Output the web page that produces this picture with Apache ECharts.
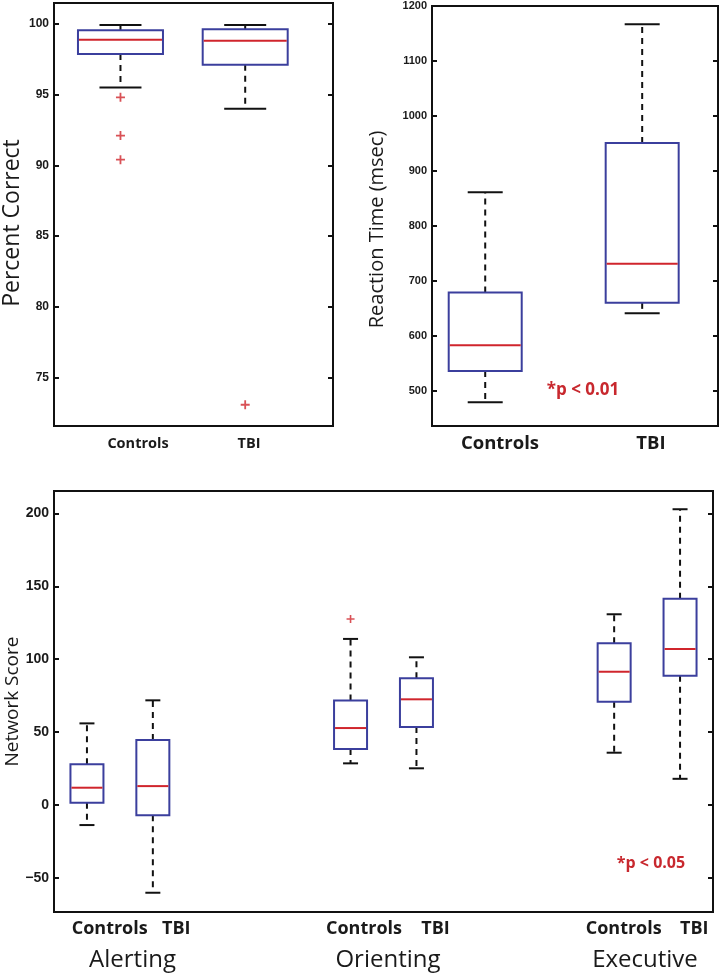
<!DOCTYPE html>
<html>
<head>
<meta charset="utf-8">
<script src="https://cdn.jsdelivr.net/npm/echarts@6/dist/echarts.min.js"></script>
<style>
html,body{margin:0;padding:0;background:#fff;}
#c{width:721px;height:976px;}
</style>
</head>
<body>
<div id="c"></div>
<script>
// ---------- DATA ----------
const groupsTop = ['Controls', 'TBI'];
// stats: [low whisker, Q1, median, Q3, high whisker]
const pcStats = [
  [95.5, 97.86, 98.87, 99.53, 99.9],
  [94.0, 97.1, 98.8, 99.6, 99.9]
];
const pcOutliers = [[1, 94.8], [1, 92.1], [1, 90.4], [2, 73.1]];
const pcTicks = [75, 80, 85, 90, 95, 100];

const rtStats = [
  [479, 536, 583, 679, 861],
  [641, 660, 731, 951, 1167]
];
const rtTicks = [500, 600, 700, 800, 900, 1000, 1100, 1200];

const nsNetworks = ['Alerting', 'Orienting', 'Executive'];
const nsSubgroups = ['Controls', 'TBI'];
const nsStats = [
  [-13.7, 1.6, 11.9, 27.9, 56],     // Alerting Controls
  [-60.1, -6.9, 13, 44.6, 71.8],    // Alerting TBI
  [28.6, 38.4, 52.8, 71.6, 113.9],  // Orienting Controls
  [25.2, 53.5, 72.5, 86.9, 101.3],  // Orienting TBI
  [35.9, 70.9, 91.4, 110.9, 130.8], // Executive Controls
  [18, 88.7, 107, 141.5, 202.8]     // Executive TBI
];
const nsPositions = [1, 1.25, 2, 2.25, 3, 3.25];
const nsOutliers = [[2, 127.6]];
const nsTicks = [-50, 0, 50, 100, 150, 200];

// ---------- STYLE ----------
const BLUE = '#3b3f9d';
const RED = '#d0252c';
const TXTRED = '#c8282e';
const PLUS = 'path://M4,0H6V4H10V6H6V10H4V6H0V4H4Z';

function boxRenderer(boxPx, capPx) {
  return function (params, api) {
    const x = api.value(0);
    const lo = api.coord([x, api.value(1)]);
    const q1 = api.coord([x, api.value(2)]);
    const md = api.coord([x, api.value(3)]);
    const q3 = api.coord([x, api.value(4)]);
    const hi = api.coord([x, api.value(5)]);
    const cx = lo[0], h = boxPx / 2, c = capPx / 2;
    const dash = { stroke: '#111', lineWidth: 2, lineDash: [6, 5] };
    const solid = { stroke: '#111', lineWidth: 2 };
    return {
      type: 'group',
      children: [
        { type: 'line', shape: { x1: cx, y1: q3[1], x2: cx, y2: hi[1] }, style: dash },
        { type: 'line', shape: { x1: cx, y1: q1[1], x2: cx, y2: lo[1] }, style: dash },
        { type: 'line', shape: { x1: cx - c, y1: hi[1], x2: cx + c, y2: hi[1] }, style: solid },
        { type: 'line', shape: { x1: cx - c, y1: lo[1], x2: cx + c, y2: lo[1] }, style: solid },
        { type: 'rect', shape: { x: cx - h, y: q3[1], width: boxPx, height: q1[1] - q3[1] },
          style: { fill: 'rgba(0,0,0,0)', stroke: BLUE, lineWidth: 2 } },
        { type: 'line', shape: { x1: cx - h + 1, y1: md[1], x2: cx + h - 1, y2: md[1] },
          style: { stroke: RED, lineWidth: 2 } }
      ]
    };
  };
}

function yAxes(gridIndex, min, max, ticks, fontSize, showLabelsLeft) {
  const fmt = v => String(v).replace('-', '\u2212');
  const common = {
    type: 'value', gridIndex, min, max,
    splitLine: { show: false },
    axisLine: { show: false }
  };
  return [
    Object.assign({}, common, {
      position: 'left',
      axisTick: { show: true, inside: true, length: 5, lineStyle: { color: '#111', width: 2 }, customValues: ticks },
      axisLabel: { show: showLabelsLeft, customValues: ticks, formatter: fmt, margin: 5,
        fontFamily: 'Liberation Sans', fontWeight: 'bold', fontSize, color: '#1a1a1a' }
    }),
    Object.assign({}, common, {
      position: 'right',
      axisTick: { show: true, inside: true, length: 5, lineStyle: { color: '#111', width: 2 }, customValues: ticks },
      axisLabel: { show: false }
    })
  ];
}

const gridStyle = { show: true, borderColor: '#111', borderWidth: 2, backgroundColor: '#fff' };

const option = {
  animation: false,
  backgroundColor: '#fff',
  grid: [
    Object.assign({ left: 54, top: 3, width: 279, height: 423 }, gridStyle),
    Object.assign({ left: 432, top: 6, width: 286, height: 420 }, gridStyle),
    Object.assign({ left: 54, top: 491, width: 659, height: 421 }, gridStyle)
  ],
  xAxis: [
    { type: 'value', gridIndex: 0, min: 0.467, max: 2.704, show: false },
    { type: 'value', gridIndex: 1, min: 0.661, max: 2.483, show: false },
    { type: 'value', gridIndex: 2, min: 0.875, max: 3.375, show: false }
  ],
  yAxis: [].concat(
    yAxes(0, 71.6, 101.46, pcTicks, 12, true),
    yAxes(1, 436, 1200, rtTicks, 11, true),
    yAxes(2, -73.3, 215.3, nsTicks, 14, true)
  ),
  series: [
    {
      type: 'custom', xAxisIndex: 0, yAxisIndex: 0,
      renderItem: boxRenderer(85, 42),
      encode: { x: 0, y: [1, 2, 3, 4, 5] },
      data: pcStats.map((s, i) => [i + 1].concat(s)),
      z: 3
    },
    {
      type: 'scatter', xAxisIndex: 0, yAxisIndex: 0,
      symbol: PLUS, symbolSize: 9,
      itemStyle: { color: RED },
      data: pcOutliers, z: 4
    },
    {
      type: 'custom', xAxisIndex: 1, yAxisIndex: 2,
      renderItem: boxRenderer(73, 35),
      encode: { x: 0, y: [1, 2, 3, 4, 5] },
      data: rtStats.map((s, i) => [i + 1].concat(s)),
      z: 3
    },
    {
      type: 'custom', xAxisIndex: 2, yAxisIndex: 4,
      renderItem: boxRenderer(33, 15),
      encode: { x: 0, y: [1, 2, 3, 4, 5] },
      data: nsStats.map((s, i) => [nsPositions[i]].concat(s)),
      z: 3
    },
    {
      type: 'scatter', xAxisIndex: 2, yAxisIndex: 4,
      symbol: PLUS, symbolSize: 8,
      itemStyle: { color: RED },
      data: nsOutliers, z: 4
    }
  ],
  graphic: []
};

// ---------- TEXT ----------
const G = option.graphic;
function txt(text, x, y, font, fill, rot) {
  G.push({
    type: 'text', x, y, rotation: rot || 0, z: 10,
    style: { text, font, fill: fill || '#1a1a1a', textAlign: 'center', textVerticalAlign: 'middle' }
  });
}
// Axis titles
txt('Percent Correct', 12.5, 223, '23px "Open Sans"', '#1a1a1a', Math.PI / 2);
txt('Reaction Time (msec)', 377, 229.5, '20px "Open Sans"', '#1a1a1a', Math.PI / 2);
txt('Network Score', 12.5, 701.5, '19px "Open Sans"', '#1a1a1a', Math.PI / 2);
// Top-left group labels
txt(groupsTop[0], 138, 444, 'bold 14.5px "Open Sans"');
txt(groupsTop[1], 249, 444, 'bold 14.5px "Open Sans"');
// Top-right group labels
txt(groupsTop[0], 500, 444, 'bold 18.5px "Open Sans"');
txt(groupsTop[1], 651, 444, 'bold 18.5px "Open Sans"');
txt('*p < 0.01', 583, 390, 'bold 17px "Open Sans"', TXTRED);
// Bottom labels
const subCenters = [[109.7, 176.3], [364, 435.5], [623.7, 694.3]];
const netCenters = [132.5, 388, 645];
nsNetworks.forEach((n, i) => {
  txt(nsSubgroups[0], subCenters[i][0], 929, 'bold 18px "Open Sans"');
  txt(nsSubgroups[1], subCenters[i][1], 929, 'bold 18px "Open Sans"');
  txt(n, netCenters[i], 960, '24px "Open Sans"');
});
txt('*p < 0.05', 651, 863, 'bold 16px "Open Sans"', TXTRED);

const chart = echarts.init(document.getElementById('c'), null, { renderer: 'canvas' });
chart.setOption(option);
</script>
</body>
</html>
